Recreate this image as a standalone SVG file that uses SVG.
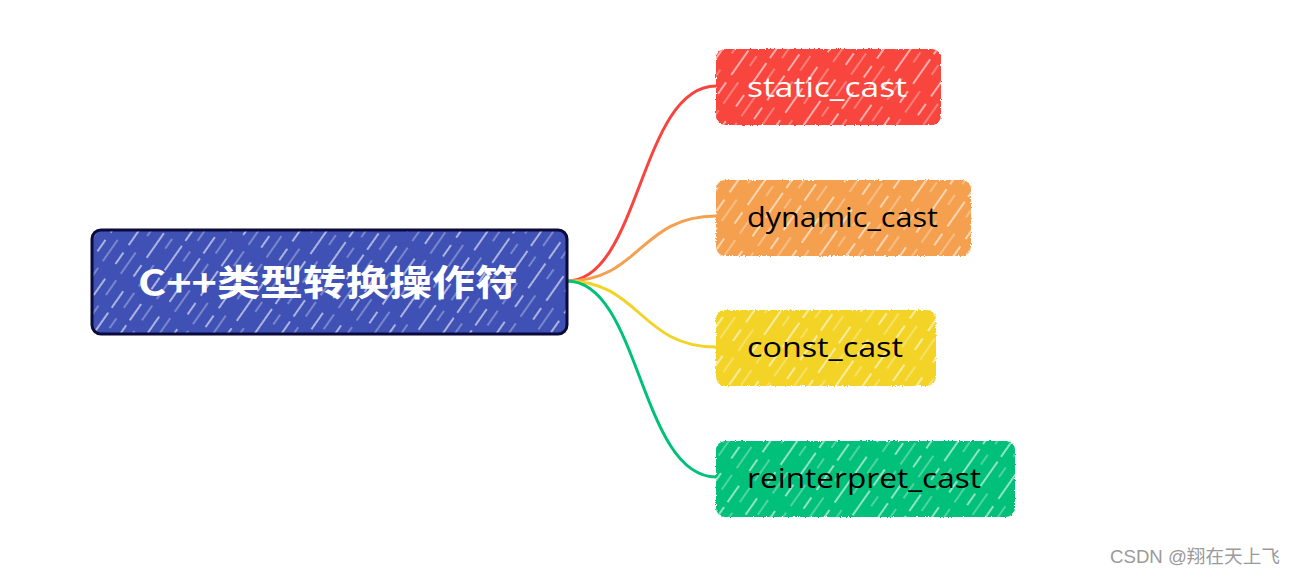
<svg xmlns="http://www.w3.org/2000/svg" width="1296" height="577" viewBox="0 0 1296 577">
<style>
.edge{fill:none;stroke-width:3;stroke-linecap:round}
.lbl{font-family:"Open Sans","Noto Sans",sans-serif;font-size:28px;font-weight:500}
.root{font-family:"Noto Sans CJK SC","Noto Sans",sans-serif;font-size:36px;font-weight:bold;fill:#ffffff}
.hatch{fill:url(#hatch)}
</style>
<defs>
<pattern id="hatch" patternUnits="userSpaceOnUse" width="22" height="97" patternTransform="rotate(35)">
<line x1="4" y1="0" x2="4" y2="97" stroke="#ffffff" stroke-opacity="0.8" stroke-width="1.4" stroke-dasharray="30 9 14 18 20 6"/>
<line x1="14" y1="0" x2="14" y2="97" stroke="#ffffff" stroke-opacity="0.55" stroke-width="1.1" stroke-dasharray="12 20 26 8 18 13"/>
</pattern>
<filter id="rough" x="-5%" y="-5%" width="110%" height="110%">
<feTurbulence type="fractalNoise" baseFrequency="0.6" numOctaves="2" seed="3" result="n"/>
<feDisplacementMap in="SourceGraphic" in2="n" scale="3" xChannelSelector="R" yChannelSelector="G"/>
</filter>
</defs>
<rect width="1296" height="577" fill="#ffffff"/>
<g id="connectors">
<path class="edge" stroke="#f8443d" d="M567,281 C640,281 640,86 716,86"/>
<path class="edge" stroke="#f5a04f" d="M567,281 C640,281 640,216 716,216"/>
<path class="edge" stroke="#f2d326" d="M567,281 C640,281 640,347 716,347"/>
<path class="edge" stroke="#00c07a" d="M567,281 C640,281 640,477 716,477"/>
</g>
<g id="root">
<rect x="92" y="230" width="475" height="104" rx="9" fill="#3f51b5" filter="url(#rough)"/>
<rect x="92" y="230" width="475" height="104" rx="9" class="hatch"/>
<rect x="92" y="230" width="475" height="104" rx="9" fill="none" stroke="#0b0b3b" stroke-width="3"/>
<text class="root" x="138" y="296" textLength="380" lengthAdjust="spacingAndGlyphs">C++类型转换操作符</text>
</g>
<g id="static_cast">
<rect x="716" y="49" width="225" height="76" rx="9" fill="#f8443d" filter="url(#rough)"/>
<rect x="716" y="49" width="225" height="76" rx="9" class="hatch"/>
<text class="lbl" x="747" y="97" fill="#ffffff" textLength="160" lengthAdjust="spacingAndGlyphs">static_cast</text>
</g>
<g id="dynamic_cast">
<rect x="716" y="180" width="255" height="76" rx="9" fill="#f5a04f" filter="url(#rough)"/>
<rect x="716" y="180" width="255" height="76" rx="9" class="hatch"/>
<text class="lbl" x="747" y="227" fill="#000000" textLength="191" lengthAdjust="spacingAndGlyphs">dynamic_cast</text>
</g>
<g id="const_cast">
<rect x="716" y="310" width="220" height="76" rx="9" fill="#f2d326" filter="url(#rough)"/>
<rect x="716" y="310" width="220" height="76" rx="9" class="hatch"/>
<text class="lbl" x="747" y="357" fill="#000000" textLength="156" lengthAdjust="spacingAndGlyphs">const_cast</text>
</g>
<g id="reinterpret_cast">
<rect x="716" y="441" width="299" height="76" rx="9" fill="#00c07a" filter="url(#rough)"/>
<rect x="716" y="441" width="299" height="76" rx="9" class="hatch"/>
<text class="lbl" x="747" y="488" fill="#000000" textLength="234" lengthAdjust="spacingAndGlyphs">reinterpret_cast</text>
</g>
<text x="1110" y="563" font-family="'Liberation Sans','Noto Sans CJK SC',sans-serif" font-size="18.5" fill="#9a9a9a" textLength="170" lengthAdjust="spacingAndGlyphs">CSDN @翔在天上飞</text>
</svg>
